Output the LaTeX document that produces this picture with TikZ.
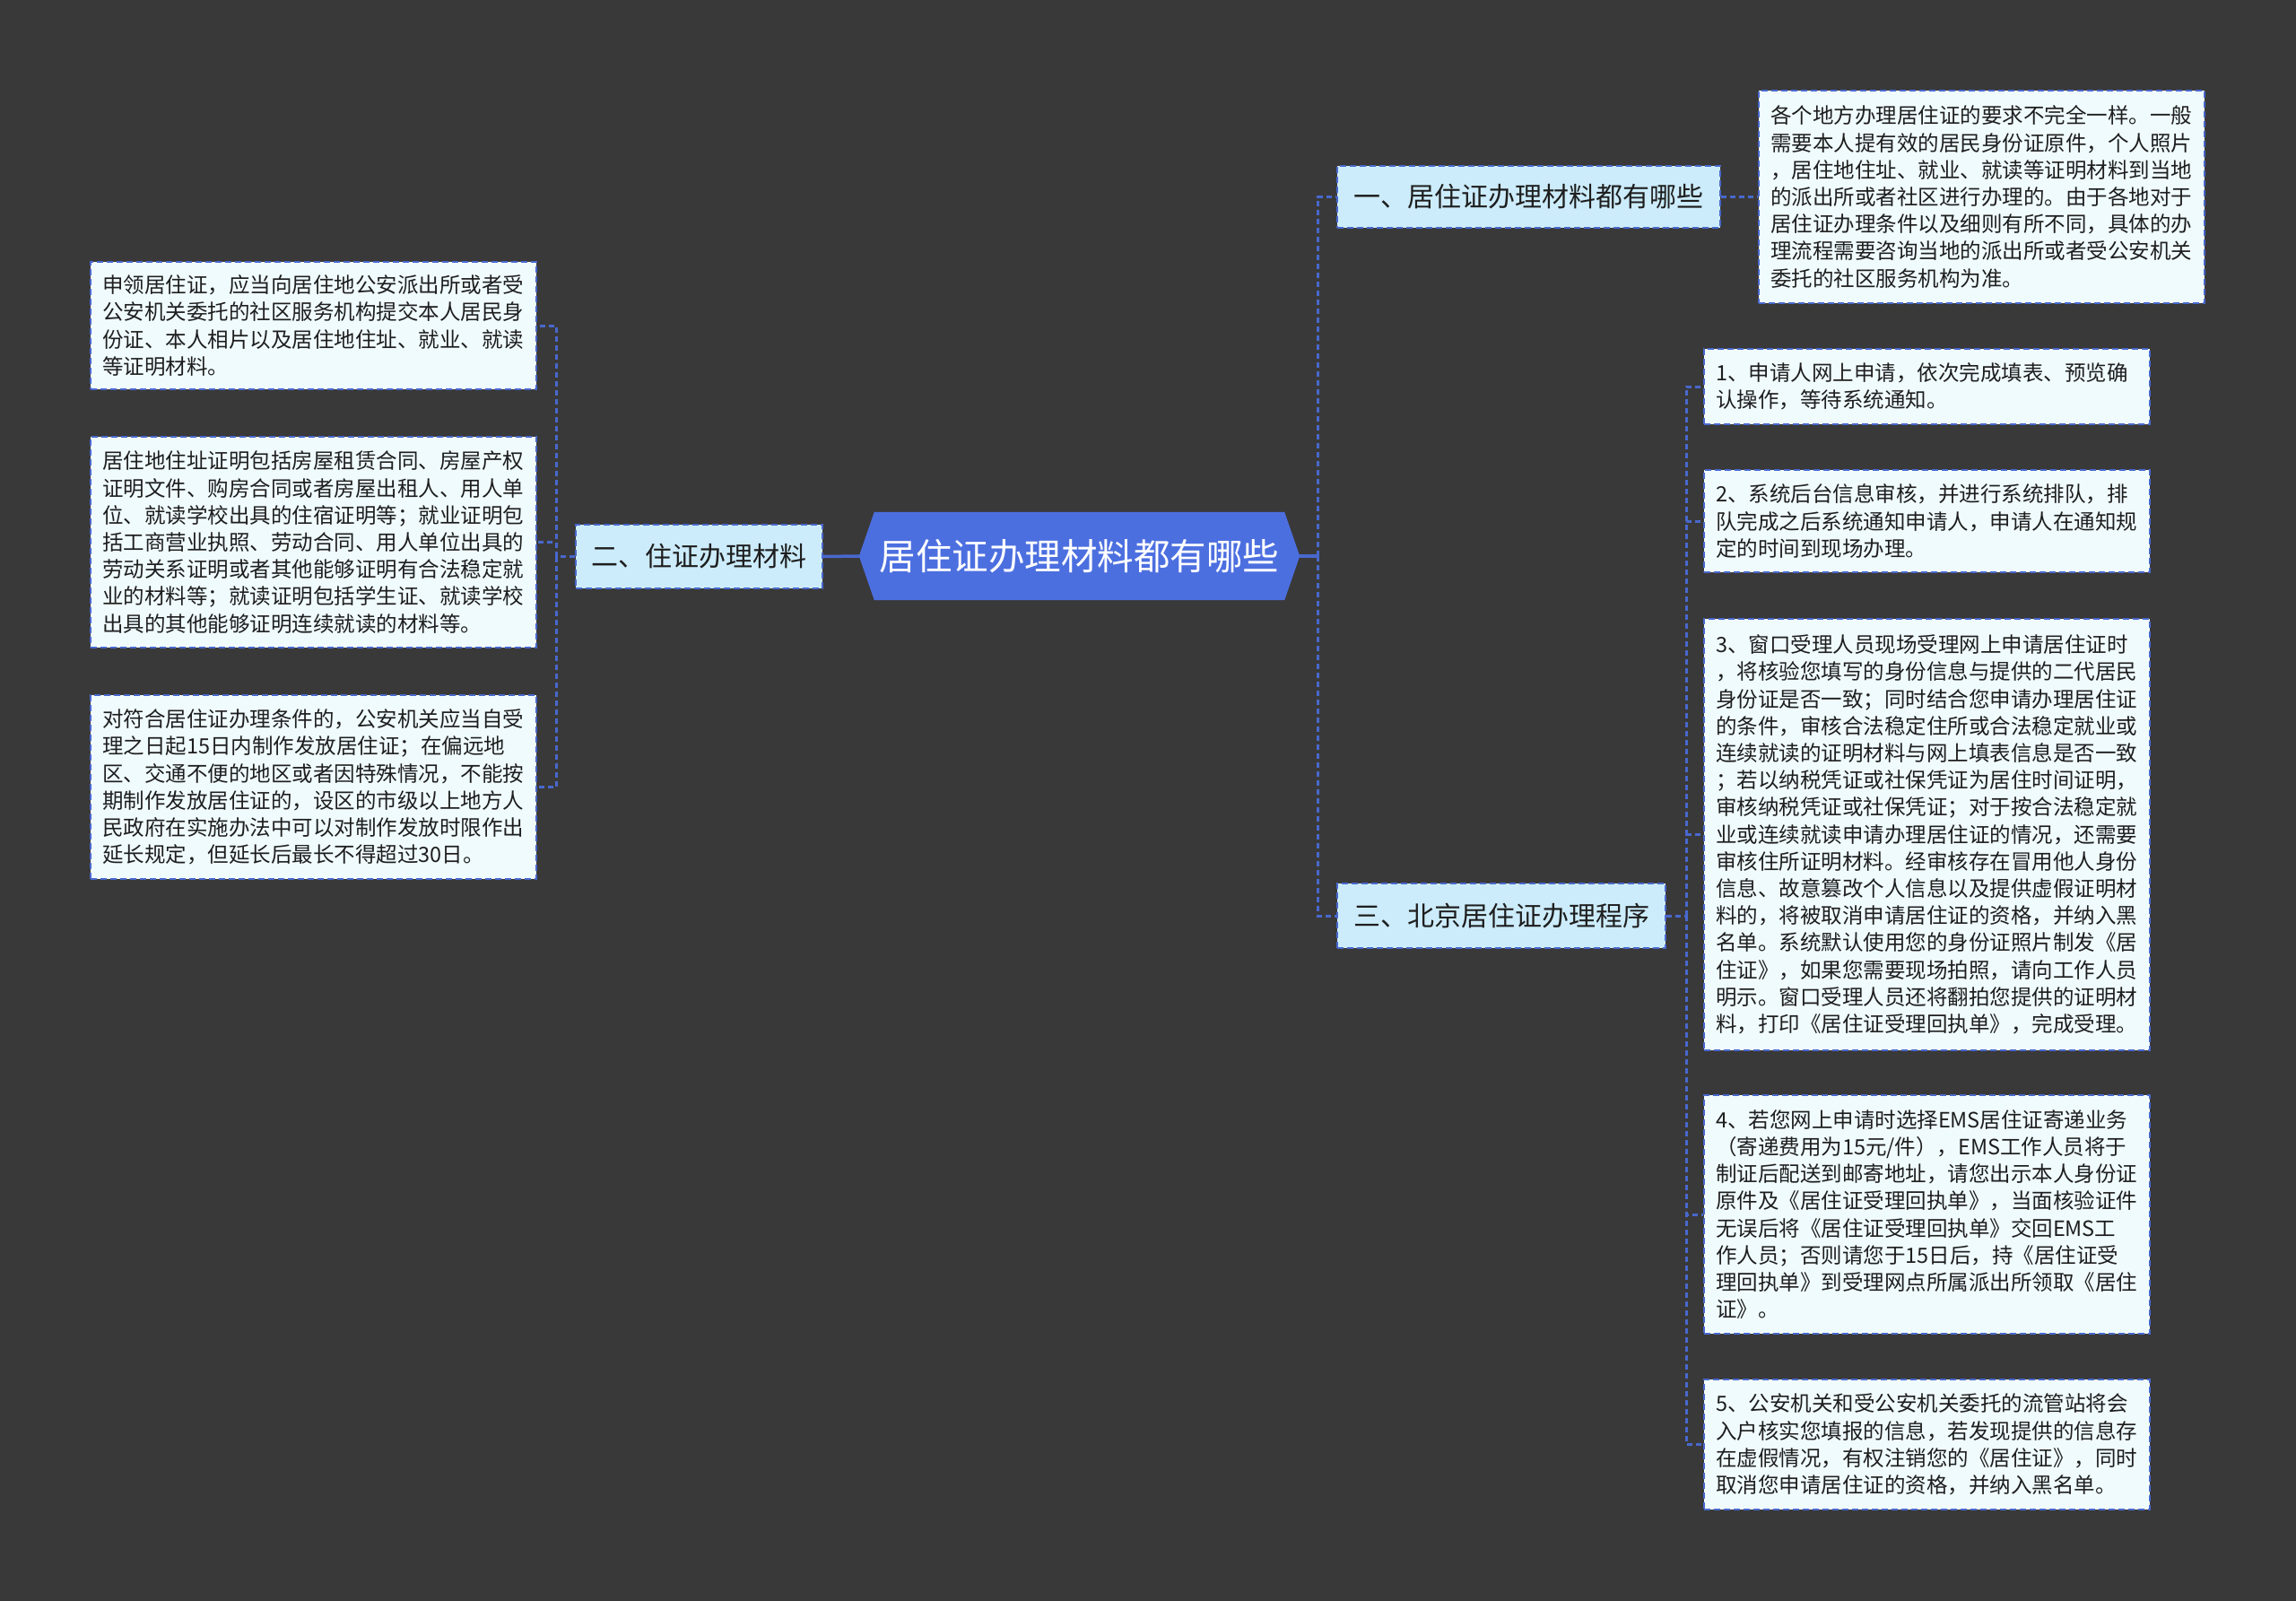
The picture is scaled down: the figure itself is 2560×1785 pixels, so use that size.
\documentclass[tikz,border=0pt]{standalone}
\usepackage{fontspec}
\newfontfamily\cjk{Noto Sans CJK SC}
\definecolor{bgc}{RGB}{58,57,58}
\definecolor{rootc}{RGB}{76,111,224}
\definecolor{topicfill}{RGB}{204,236,251}
\definecolor{leaffill}{RGB}{240,251,254}
\definecolor{edgec}{RGB}{72,104,205}
\definecolor{txt}{RGB}{30,30,30}
\pgfdeclarelayer{bglayer}
\pgfsetlayers{bglayer,main}
\begin{document}
\begin{tikzpicture}[x=1pt,y=-1pt,
  rootnode/.style={inner sep=0pt, minimum width=491pt, minimum height=98pt, text=white, font=\cjk\fontsize{40.5}{46}\selectfont},
  topic/.style={draw=edgec, line width=2pt, dash pattern=on 7pt off 4pt, fill=topicfill, inner sep=0pt, text=txt, font=\cjk\fontsize{30}{36}\selectfont},
  leaf/.style={draw=edgec, line width=2pt, dash pattern=on 7pt off 4pt, fill=leaffill, inner xsep=13pt, inner ysep=0pt, text width=471pt, align=left, text=txt, font=\cjk\fontsize{23.5}{30.2}\selectfont},
  link/.style={draw=edgec, line width=3pt, dash pattern=on 6pt off 4pt},
  trunk/.style={draw=edgec, line width=3.5pt},
]
\useasboundingbox (0,0) rectangle (2560,1785);

% central node
\node[rootnode] (root) at (1203.5,620) {居住证办理材料都有哪些};

% topics
\node[topic, minimum width=427pt, minimum height=69pt] (n1) at (1704.5,219.5) {一、居住证办理材料都有哪些};
\node[topic, minimum width=275pt, minimum height=71pt] (n2) at (779.5,620.5) {二、住证办理材料};
\node[topic, minimum width=366pt, minimum height=72pt] (n3) at (1674,1021) {三、北京居住证办理程序};

% left leaves
\node[leaf, minimum height=142pt] (l1) at (349.5,363) {申领居住证，应当向居住地公安派出所或者受\\公安机关委托的社区服务机构提交本人居民身\\份证、本人相片以及居住地住址、就业、就读\\等证明材料。};
\node[leaf, minimum height=235pt] (l2) at (349.5,604.5) {居住地住址证明包括房屋租赁合同、房屋产权\\证明文件、购房合同或者房屋出租人、用人单\\位、就读学校出具的住宿证明等；就业证明包\\括工商营业执照、劳动合同、用人单位出具的\\劳动关系证明或者其他能够证明有合法稳定就\\业的材料等；就读证明包括学生证、就读学校\\出具的其他能够证明连续就读的材料等。};
\node[leaf, minimum height=205pt] (l3) at (349.5,877.5) {对符合居住证办理条件的，公安机关应当自受\\理之日起15日内制作发放居住证；在偏远地\\区、交通不便的地区或者因特殊情况，不能按\\期制作发放居住证的，设区的市级以上地方人\\民政府在实施办法中可以对制作发放时限作出\\延长规定，但延长后最长不得超过30日。};

% right leaves
\node[leaf, minimum height=237pt] (r0) at (2209.5,219.5) {各个地方办理居住证的要求不完全一样。一般\\需要本人提有效的居民身份证原件，个人照片\\，居住地住址、就业、就读等证明材料到当地\\的派出所或者社区进行办理的。由于各地对于\\居住证办理条件以及细则有所不同，具体的办\\理流程需要咨询当地的派出所或者受公安机关\\委托的社区服务机构为准。};
\node[leaf, minimum height=84pt] (r1) at (2148.5,431) {1、申请人网上申请，依次完成填表、预览确\\认操作，等待系统通知。};
\node[leaf, minimum height=114pt] (r2) at (2148.5,581) {2、系统后台信息审核，并进行系统排队，排\\队完成之后系统通知申请人，申请人在通知规\\定的时间到现场办理。};
\node[leaf, minimum height=481pt] (r3) at (2148.5,930.5) {3、窗口受理人员现场受理网上申请居住证时\\，将核验您填写的身份信息与提供的二代居民\\身份证是否一致；同时结合您申请办理居住证\\的条件，审核合法稳定住所或合法稳定就业或\\连续就读的证明材料与网上填表信息是否一致\\；若以纳税凭证或社保凭证为居住时间证明，\\审核纳税凭证或社保凭证；对于按合法稳定就\\业或连续就读申请办理居住证的情况，还需要\\审核住所证明材料。经审核存在冒用他人身份\\信息、故意篡改个人信息以及提供虚假证明材\\料的，将被取消申请居住证的资格，并纳入黑\\名单。系统默认使用您的身份证照片制发《居\\住证》，如果您需要现场拍照，请向工作人员\\明示。窗口受理人员还将翻拍您提供的证明材\\料，打印《居住证受理回执单》，完成受理。};
\node[leaf, minimum height=266pt] (r4) at (2148.5,1354) {4、若您网上申请时选择EMS居住证寄递业务\\（寄递费用为15元/件），EMS工作人员将于\\制证后配送到邮寄地址，请您出示本人身份证\\原件及《居住证受理回执单》，当面核验证件\\无误后将《居住证受理回执单》交回EMS工\\作人员；否则请您于15日后，持《居住证受\\理回执单》到受理网点所属派出所领取《居住\\证》。};
\node[leaf, minimum height=145pt] (r5) at (2148.5,1610.5) {5、公安机关和受公安机关委托的流管站将会\\入户核实您填报的信息，若发现提供的信息存\\在虚假情况，有权注销您的《居住证》，同时\\取消您申请居住证的资格，并纳入黑名单。};

% background and hexagon
\begin{pgfonlayer}{bglayer}
\fill[bgc] (0,0) rectangle (2560,1785);
\fill[rootc] (root.west) -- ([xshift=17pt]root.north west) -- ([xshift=-17pt]root.north east) -- (root.east) -- ([xshift=-17pt]root.south east) -- ([xshift=17pt]root.south west) -- cycle;
\end{pgfonlayer}

% connectors: right side
\draw[trunk] (root.east) -- ++(20,0) coordinate (rb);
\draw[link] (rb) |- (n1.west);
\draw[link] (rb) |- (n3.west);
\draw[link] (n1.east) -- (r0.west);
\draw[link] (n3.east) -- ++(22,0) coordinate (tb);
\foreach \r in {r1,r2,r3,r4,r5} \draw[link] (tb) |- (\r.west);

% connectors: left side
\draw[trunk] (root.west) -- (n2.east);
\draw[link] (n2.west) -- ++(-21,0) coordinate (lb);
\foreach \l in {l1,l2,l3} \draw[link] (lb) |- (\l.east);
\end{tikzpicture}
\end{document}
